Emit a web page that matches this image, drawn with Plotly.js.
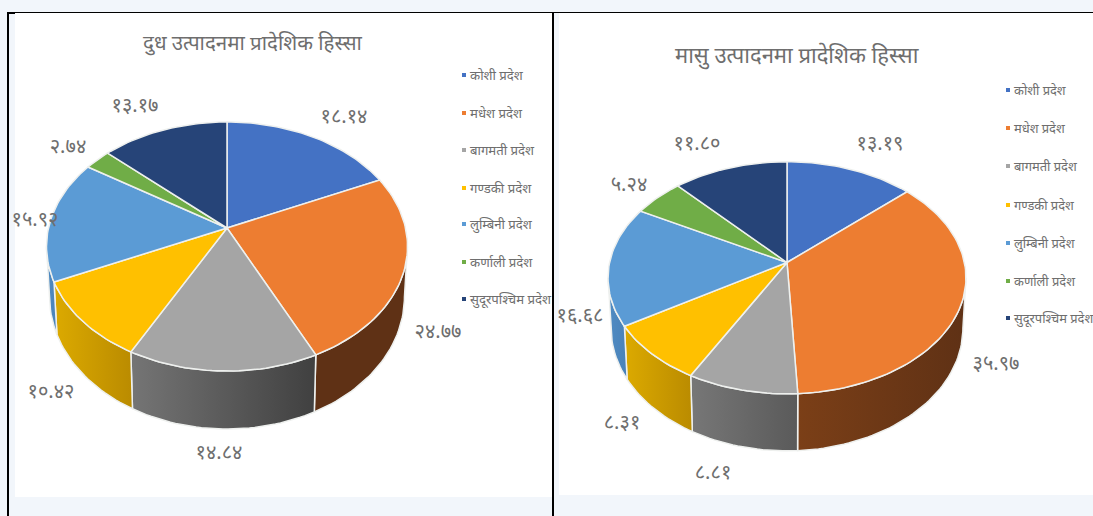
<!DOCTYPE html>
<html><head><meta charset="utf-8">
<script src="https://cdn.plot.ly/plotly-3.0.1.min.js"></script>
<style>html,body{margin:0;padding:0;background:#f2f6fb;overflow:hidden}#c{width:1093px;height:516px}</style>
</head><body><div id="c"></div>
<script>
const categories = ['कोशी प्रदेश','मधेश प्रदेश','बागमती प्रदेश','गण्डकी प्रदेश','लुम्बिनी प्रदेश','कर्णाली प्रदेश','सुदूरपश्चिम प्रदेश'];
const milkValues = [18.14,24.77,14.84,10.42,15.92,2.74,13.17];
const meatValues = [13.19,35.97,8.81,8.31,16.68,5.24,11.80];
const milkTitle = 'दुध उत्पादनमा प्रादेशिक हिस्सा';
const meatTitle = 'मासु उत्पादनमा प्रादेशिक हिस्सा';
const topColors = ['#4472c4','#ed7d31','#a5a5a5','#ffc000','#5b9bd5','#70ad47','#264478'];

const FONT = '"Noto Sans","Noto Sans CJK SC","Liberation Sans",sans-serif';
const GREY = '#6e6e6e';
const milkStyle = {cx:227,cy:228,A:178.5,B:121.8,k:0.1486,D:49.4,shrink:0.983,
  walls:[['#3f66ad','#3f66ad'],['#5f3115','#5f3115'],['#757575','#404040'],['#dcaa00','#ba8b00'],['#4f8bc3','#4a82b8'],['#70ad47','#70ad47'],['#264478','#264478']],
  labelX:[344,438,219,51,35,68,135],labelY:[118,333,454,393,221,148,107],
  legendX:464,legendY:[75,113,150,188,224,262,299],legendGap:6,legendSize:13.2,titleX:253,titleY:42,titleSize:20.5};
const meatStyle = {cx:787,cy:262.5,A:177.4,B:114,k:0.132,D:49.5,shrink:0.983,
  walls:[['#3f66ad','#3f66ad'],['#7b3f17','#5f3115'],['#777777','#5a5a5a'],['#dcaa00','#ba8b00'],['#4f8bc3','#4a82b8'],['#70ad47','#70ad47'],['#264478','#264478']],
  labelX:[880,996,713,622,580,629,697],labelY:[145,365,474,424,317,186,145],
  legendX:1008,legendY:[90,128,166,205,243,281,318],legendGap:6,legendSize:12.9,titleX:797,titleY:54,titleSize:22};

const devanagari = s => s.replace(/[0-9]/g, d => '०१२३४५६७८९'[+d]);
const fmt = v => devanagari(v.toFixed(2));

function project(s, frac, lower){
  const a = frac*2*Math.PI, u = Math.sin(a), v = Math.cos(a), w = 1+s.k*v;
  const xs = lower ? s.shrink : 1;
  return [s.cx + xs*s.A*u/w, s.cy + (-s.B*v + (lower ? s.D : 0))/w];
}
function arc(s, f0, f1, lower){
  const pts=[], n=Math.max(2,Math.ceil((f1-f0)*240));
  for(let i=0;i<=n;i++) pts.push(project(s, f0+(f1-f0)*i/n, lower));
  return pts;
}
const traces=[], annotations=[];
function build(values, s, title){
  let acc=0; const total=values.reduce((a,b)=>a+b,0), spans=[];
  values.forEach(v=>{spans.push([acc/total,(acc+v)/total]); acc+=v;});
  // side walls: only the span facing the viewer, between the two silhouette points
  const fA = Math.acos(-s.k)/(2*Math.PI), fB = 1-fA;
  spans.forEach((sp,i)=>{
    const f0=Math.max(sp[0],fA), f1=Math.min(sp[1],fB);
    if(f1<=f0) return;
    const p=[...arc(s,f0,f1,false),...arc(s,f0,f1,true).reverse()];
    p.push(p[0]);
    traces.push({type:'scatter',mode:'lines',x:p.map(q=>q[0]),y:p.map(q=>q[1]),fill:'toself',
      fillgradient:{type:'horizontal',colorscale:[[0,s.walls[i][0]],[1,s.walls[i][1]]]},
      line:{color:'#eef0ee',width:1.5},hoverinfo:'skip',showlegend:false});
  });
  // top face
  spans.forEach((sp,i)=>{
    const p=[[s.cx,s.cy],...arc(s,sp[0],sp[1],false),[s.cx,s.cy]];
    traces.push({type:'scatter',mode:'lines',x:p.map(q=>q[0]),y:p.map(q=>q[1]),fill:'toself',
      fillcolor:topColors[i],line:{color:'#eef0ee',width:1.5},name:categories[i],
      text:categories[i]+': '+values[i],hoverinfo:'text',showlegend:false});
  });
  // legend entries
  traces.push({type:'scatter',mode:'markers',x:categories.map(()=>s.legendX),y:s.legendY,
    marker:{symbol:'square',size:4,color:topColors},hoverinfo:'skip',showlegend:false});
  traces.push({type:'scatter',mode:'text',x:categories.map(()=>s.legendX+s.legendGap),y:s.legendY.map(y=>y+2),
    text:categories,textposition:'middle right',textfont:{family:FONT,size:s.legendSize,color:GREY},
    hoverinfo:'skip',showlegend:false});
  // value labels
  traces.push({type:'scatter',mode:'text',x:s.labelX,y:s.labelY,text:values.map(fmt),
    textposition:'middle center',textfont:{family:FONT,size:20,color:GREY},hoverinfo:'skip',showlegend:false});
  annotations.push({xref:'x',yref:'y',x:s.titleX,y:s.titleY,text:title,showarrow:false,
    font:{family:FONT,size:s.titleSize,color:GREY},xanchor:'center',yanchor:'middle'});
}
build(milkValues, milkStyle, milkTitle);
build(meatValues, meatStyle, meatTitle);

const rect=(x0,y0,x1,y1,c)=>({type:'rect',xref:'x',yref:'y',x0,y0,x1,y1,fillcolor:c,line:{width:0},layer:'below'});
const layout={width:1093,height:516,margin:{l:0,r:0,t:0,b:0},paper_bgcolor:'#f2f6fb',plot_bgcolor:'rgba(0,0,0,0)',
  xaxis:{range:[0,1093],visible:false,fixedrange:true},
  yaxis:{range:[516,0],visible:false,fixedrange:true},
  showlegend:false,annotations,
  shapes:[rect(15,13,552,497,'#ffffff'),rect(559,13,1093,495,'#ffffff'),
    rect(7,12,1093,13,'#000000'),rect(7,12,15,14,'#000000'),rect(7,12,9,516,'#000000'),rect(552,12,554,516,'#000000')]};
Plotly.newPlot('c',traces,layout,{displayModeBar:false,staticPlot:true});
</script></body></html>
